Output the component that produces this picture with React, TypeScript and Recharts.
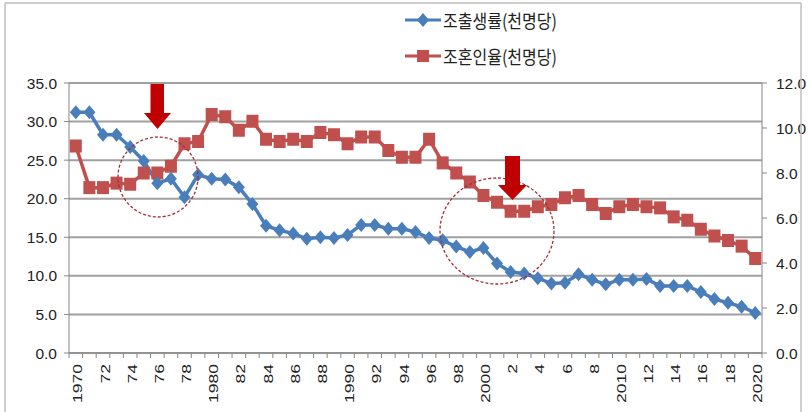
import React from 'react';
import { LineChart, Line, XAxis, YAxis, CartesianGrid } from 'recharts';

const years = [
  1970, 1971, 1972, 1973, 1974, 1975, 1976, 1977, 1978, 1979,
  1980, 1981, 1982, 1983, 1984, 1985, 1986, 1987, 1988, 1989,
  1990, 1991, 1992, 1993, 1994, 1995, 1996, 1997, 1998, 1999,
  2000, 2001, 2002, 2003, 2004, 2005, 2006, 2007, 2008, 2009,
  2010, 2011, 2012, 2013, 2014, 2015, 2016, 2017, 2018, 2019, 2020,
];

// 조출생률 (left axis)
const birthRate = [
  31.2, 31.2, 28.3, 28.3, 26.7, 24.9, 22.0, 22.6, 20.2, 23.1,
  22.6, 22.5, 21.5, 19.3, 16.5, 15.9, 15.5, 14.8, 15.0, 14.9,
  15.3, 16.6, 16.6, 16.1, 16.1, 15.7, 14.9, 14.6, 13.8, 13.1,
  13.6, 11.6, 10.5, 10.3, 9.7, 9.0, 9.1, 10.2, 9.5, 8.9,
  9.5, 9.5, 9.6, 8.7, 8.7, 8.7, 7.9, 7.0, 6.5, 6.0, 5.2,
];

// 조혼인율 (right axis)
const marriageRate = [
  9.2, 7.35, 7.35, 7.55, 7.5, 8.0, 8.0, 8.3, 9.3, 9.4,
  10.6, 10.5, 9.9, 10.3, 9.5, 9.4, 9.5, 9.4, 9.8, 9.7,
  9.3, 9.6, 9.6, 9.0, 8.7, 8.7, 9.5, 8.45, 8.0, 7.6,
  7.0, 6.7, 6.3, 6.3, 6.5, 6.6, 6.9, 7.0, 6.6, 6.2,
  6.5, 6.6, 6.5, 6.45, 6.05, 5.9, 5.5, 5.2, 5.0, 4.75, 4.2,
];

const leftTicks = [0, 5, 10, 15, 20, 25, 30, 35];
const rightTicks = [0, 2, 4, 6, 8, 10, 12];
const seriesNames = ['조출생률(천명당)', '조혼인율(천명당)'];

const BLUE = '#4a7ebb';
const RED = '#c0504d';
const numFont = '"Liberation Sans", Arial, sans-serif';

const data = years.map((y, i) => ({ year: y, birth: birthRate[i], marriage: marriageRate[i] }));

const yearLabel = (y: number) => (y % 10 === 0 ? String(y) : String(y % 100));

const Diamond = ({ cx, cy }: any) => (
  <polygon points={`${cx},${cy - 7} ${cx + 6},${cy} ${cx},${cy + 7} ${cx - 6},${cy}`} fill={BLUE} />
);

const Square = ({ cx, cy }: any) => (
  <rect x={cx - 6} y={cy - 6.5} width={12} height={13} fill={RED} />
);

const YearTick = (props: any) => {
  const { x, y, payload, index } = props;
  const half = 6.8;
  const show = payload.value % 2 === 0;
  return (
    <g>
      <line x1={x - half} y1={y} x2={x - half} y2={y + 5} stroke="#868686" />
      {index === years.length - 1 && (
        <line x1={x + half} y1={y} x2={x + half} y2={y + 5} stroke="#868686" />
      )}
      {show && (
        <text
          transform={`translate(${x + 2},${y + 11}) rotate(-90) scale(1.35,1)`}
          textAnchor="end"
          dominantBaseline="central"
          fontSize={13}
          fontFamily={numFont}
          fill="#222"
        >
          {yearLabel(payload.value)}
        </text>
      )}
    </g>
  );
};

const Annotations = () => (
  <svg width={808} height={412} style={{ position: 'absolute', left: 0, top: 0, pointerEvents: 'none' }}>
    <line x1={5} y1={3} x2={801} y2={3} stroke="#bfbfbf" strokeWidth={1.5} />
    <line x1={5} y1={3} x2={5} y2={412} stroke="#bfbfbf" strokeWidth={1.5} />
    <line x1={801} y1={3} x2={801} y2={412} stroke="#bfbfbf" strokeWidth={1.5} />
    <circle cx={158} cy={177} r={40} fill="none" stroke="#a0303a" strokeWidth={1.3} strokeDasharray="3 2" />
    <ellipse cx={497} cy={231} rx={57} ry={53} fill="none" stroke="#a0303a" strokeWidth={1.3} strokeDasharray="3 2" />
    <polygon points="150.5,84 164,84 164,113 171,113 157.5,129 144,113 150.5,113" fill="#c00000" />
    <polygon points="505,156 520,156 520,185 527,185 512.5,200 498,185 505,185" fill="#c00000" />
  </svg>
);

const LegendRow = ({ color, label, square, top }: any) => (
  <div style={{ position: 'absolute', left: 405, top, height: 24, display: 'flex', alignItems: 'center' }}>
    <svg width={36} height={14}>
      <line x1={0} y1={7} x2={36} y2={7} stroke={color} strokeWidth={3} />
      {square ? (
        <rect x={12} y={1} width={12} height={12} fill={color} />
      ) : (
        <polygon points="18,0 24,7 18,14 12,7" fill={color} />
      )}
    </svg>
    <span
      style={{
        marginLeft: 2,
        fontFamily: '"Noto Sans CJK KR", sans-serif',
        fontSize: 16,
        color: '#222',
        display: 'inline-block',
        transform: 'scale(1, 1.15)',
        whiteSpace: 'nowrap',
      }}
    >
      {label}
    </span>
  </div>
);

export default function App() {
  return (
    <div style={{ position: 'absolute', left: 0, top: 0, width: 808, height: 412, background: '#fff' }}>
      <LineChart width={808} height={412} data={data} margin={{ top: 83, right: 0, bottom: 0, left: 0 }}>
        <CartesianGrid yAxisId="left" vertical={false} stroke="#a0a0a0" strokeWidth={2} />
        <XAxis
          dataKey="year"
          interval={0}
          height={59}
          padding={{ left: 6.8, right: 6.8 }}
          axisLine={{ stroke: '#868686' }}
          tickLine={false}
          tickSize={0}
          tickMargin={0}
          tick={<YearTick />}
        />
        <YAxis
          yAxisId="left"
          width={69}
          domain={[0, 35]}
          ticks={leftTicks}
          tickFormatter={(v: number) => v.toFixed(1)}
          axisLine={{ stroke: '#868686' }}
          tickLine={{ stroke: '#868686' }}
          tickSize={5}
          tickMargin={7}
          tick={{ fontSize: 15.5, fontFamily: numFont, fill: '#222' }}
        />
        <YAxis
          yAxisId="right"
          orientation="right"
          width={46}
          domain={[0, 12]}
          ticks={rightTicks}
          tickFormatter={(v: number) => v.toFixed(1)}
          axisLine={{ stroke: '#868686' }}
          tickLine={{ stroke: '#868686' }}
          tickSize={5}
          tickMargin={9}
          tick={{ fontSize: 15.5, fontFamily: numFont, fill: '#222', textAnchor: 'start' }}
        />
        <Line
          yAxisId="right"
          dataKey="marriage"
          name={seriesNames[1]}
          stroke={RED}
          strokeWidth={3.5}
          dot={(p: any) => <Square key={`m${p.index}`} {...p} />}
          isAnimationActive={false}
        />
        <Line
          yAxisId="left"
          dataKey="birth"
          name={seriesNames[0]}
          stroke={BLUE}
          strokeWidth={3.5}
          dot={(p: any) => <Diamond key={`b${p.index}`} {...p} />}
          isAnimationActive={false}
        />
      </LineChart>
      <Annotations />
      <LegendRow color={BLUE} label={seriesNames[0]} top={8} />
      <LegendRow color={RED} label={seriesNames[1]} square top={44} />
    </div>
  );
}
